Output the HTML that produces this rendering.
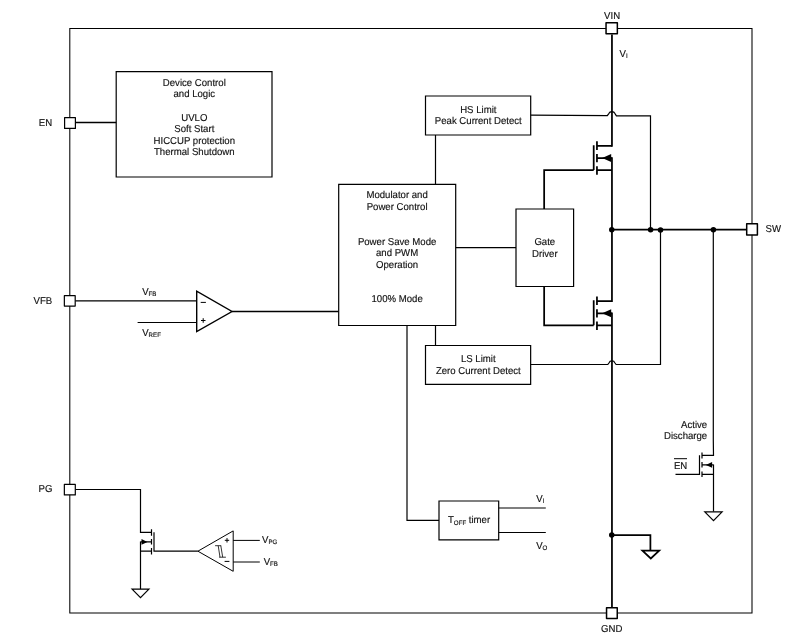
<!DOCTYPE html>
<html><head><meta charset="utf-8"><title>Functional Block Diagram</title>
<style>
html,body{margin:0;padding:0;background:#fff;}
svg{display:block;will-change:transform;}
text{font-family:"Liberation Sans",sans-serif;font-size:10px;fill:#111;stroke:#111;stroke-width:.15px;text-rendering:geometricPrecision;}
.m{text-anchor:middle;}
.e{text-anchor:end;}
.s{font-size:6.4px;stroke-width:.15px;}
.t{stroke:#000;stroke-width:1.2;fill:none;}
.u{stroke:#000;stroke-width:1.4;fill:none;}
.g{stroke:#000;stroke-width:1;fill:none;}
.f{stroke:#000;stroke-width:1.05;fill:none;}
.k{stroke:#000;stroke-width:1.75;fill:none;stroke-linejoin:miter;}
.b{stroke:#000;stroke-width:1.2;fill:#fff;}
.p{stroke:#000;stroke-width:1.2;fill:#fff;stroke-linejoin:round;}
.q{stroke:#000;stroke-width:1.5;fill:#fff;stroke-linejoin:round;}
.d{fill:#000;stroke:none;}
</style></head><body>
<svg width="797" height="641" viewBox="0 0 797 641">
<rect x="0" y="0" width="797" height="641" fill="#fff"/>
<path class="f" d="M69.8 28.5H752V613H69.8Z"/>
<path class="b" d="M116.2 71.6H272V177H116.2Z"/>
<text class="m" transform="translate(194.3 85.7) scale(0.96 1)">Device Control</text>
<text class="m" transform="translate(194.3 97.1) scale(0.96 1)">and Logic</text>
<text class="m" transform="translate(194.3 120.5) scale(0.96 1)">UVLO</text>
<text class="m" transform="translate(194.3 131.7) scale(0.96 1)">Soft Start</text>
<text class="m" transform="translate(194.3 143.5) scale(0.96 1)">HICCUP protection</text>
<text class="m" transform="translate(194.3 154.9) scale(0.96 1)">Thermal Shutdown</text>
<path class="u" d="M75.4 122.45H116.2"/>
<path class="u" d="M75.2 300.9H196.7M232 311.5H338.7"/>
<path class="t" d="M137.6 322.5H196.7"/>
<path class="u" d="M196.7 291.2V331.6L232 311.5Z" style="fill:#fff"/>
<path class="g" d="M200.7 302.4H205.9M201 320.5H205.5M203.2 318.2V322.8"/>
<text transform="translate(142.2 295) scale(0.96 1)">V<tspan class="s" dy="0.8">FB</tspan></text>
<text transform="translate(142.2 336.4) scale(0.96 1)">V<tspan class="s" dy="0.8">REF</tspan></text>
<path class="b" d="M338.7 184.3H455.7V325.5H338.7Z"/>
<text class="m" transform="translate(397.1 197.9) scale(0.96 1)">Modulator and</text>
<text class="m" transform="translate(397.1 209.6) scale(0.96 1)">Power Control</text>
<text class="m" transform="translate(397.1 244.8) scale(0.96 1)">Power Save Mode</text>
<text class="m" transform="translate(397.1 256.2) scale(0.96 1)">and PWM</text>
<text class="m" transform="translate(397.1 267.6) scale(0.96 1)">Operation</text>
<text class="m" transform="translate(397.1 301.9) scale(0.96 1)">100% Mode</text>
<path class="t" d="M435.5 184.3V135M455.7 247.7H516M435.5 325.5V345.5M407 325.5V520.4H439"/>
<path class="b" d="M425.5 96H530.7V135H425.5Z"/>
<text class="m" transform="translate(478.3 112.9) scale(0.96 1)">HS Limit</text>
<text class="m" transform="translate(478.3 124.1) scale(0.96 1)">Peak Current Detect</text>
<path class="t" d="M530.7 115.1L607.3 115.7L608.8 113.6A3.4 3.2 0 0 1 615 113.6L616.4 115.8H650.5V229.7"/>
<path class="b" d="M425.5 345.5H530.65V384.4H425.5Z"/>
<text class="m" transform="translate(478.3 362) scale(0.96 1)">LS Limit</text>
<text class="m" transform="translate(478.3 373.6) scale(0.96 1)">Zero Current Detect</text>
<path class="t" d="M530.65 364.5H607.8L609.1 362.8A3 2.7 0 0 1 614.8 362.8L616.1 364.5H660.5V229.7"/>
<path class="b" d="M516 209H573.6V286.5H516Z"/>
<text class="m" transform="translate(544.8 245.3) scale(0.96 1)">Gate</text>
<text class="m" transform="translate(544.8 257) scale(0.96 1)">Driver</text>
<path class="k" d="M596.95 145.9H611.95 M596.95 158H611.95 M596.95 170H611.95"/>
<path class="k" d="M596.95 141.3V149.9 M596.95 153.9V162.2 M596.95 166.2V174.8 M593.7 145.2V170"/>
<path class="d" d="M602.2 158 L611.2 154 V162 Z"/>
<path class="k" d="M596.95 301H611.95 M596.95 313.25H611.95 M596.95 325.3H611.95"/>
<path class="k" d="M596.95 296.4V305 M596.95 309.15V317.45 M596.95 321.5V330.1 M593.7 300.3V325.3"/>
<path class="d" d="M602.2 313.25 L611.2 309.25 V317.25 Z"/>
<path class="k" d="M611.95 34.4V146.85M611.95 157.2V301.95M611.95 312.4V607.2"/>
<path class="k" d="M593.7 170H544.15V209M593.7 325.3H544.15V286.5"/>
<path class="k" d="M611.95 229.7H746.4"/>
<path class="k" d="M611.95 535H650.4V550.6"/>
<path class="k" d="M642.4 550.6H659.2L650.8 558.5Z" style="fill:#fff"/>
<circle class="d" cx="611.75" cy="229.7" r="2.75"/>
<circle class="d" cx="650.6" cy="229.7" r="2.75"/>
<circle class="d" cx="660.5" cy="230" r="2.75"/>
<circle class="d" cx="713.4" cy="229.7" r="2.75"/>
<circle class="d" cx="611.75" cy="535" r="2.75"/>
<path class="t" d="M713.3 229.7L713.3 440L713.5 455.3H702M702 464.95H713.5M713.5 464.4V511.8M702 474.35H713.5M702 452.5V458.5M702 461.9V467.6M702 471.4V477M699.5 455.2V474.35H675.5"/>
<path class="d" d="M705.8 464.95L712.1 462.1V467.8Z"/>
<path class="b" d="M704.8 511.8H722.1L713.5 520.6Z"/>
<text class="e" transform="translate(707.2 427.9) scale(0.96 1)">Active</text>
<text class="e" transform="translate(707.2 438.9) scale(0.96 1)">Discharge</text>
<text transform="translate(673.9 468.95) scale(0.96 1)">EN</text>
<path class="g" d="M674 458.7H687"/>
<path class="b" d="M439 501H498.7V539.8H439Z"/>
<text transform="translate(448 522.7) scale(0.96 1)">T<tspan class="s" dy="2">OFF</tspan><tspan dy="-2"> timer</tspan></text>
<path class="t" d="M498.7 508H545.8M498.7 532.5H545.8"/>
<text transform="translate(536.2 501.8) scale(0.96 1)">V<tspan class="s" dy="1">I</tspan></text>
<text transform="translate(536.2 548.6) scale(0.96 1)">V<tspan class="s" dy="1">O</tspan></text>
<text transform="translate(619.6 56.6) scale(0.96 1)">V<tspan class="s" dy="1">I</tspan></text>
<path class="t" d="M75.3 489.5H140.5V532.45H151.5M140.5 541.95H151.5M140.5 541.4V589.2M140.5 551.1H151.5M151.5 529.2V535.7M151.5 538.9V544.6M151.5 548V554.4M154 532.2V551.1H197.9"/>
<path class="d" d="M147.4 541.95L141.5 539.1V544.8Z"/>
<path class="b" d="M132.1 589.2H148.9L140.5 597.7Z"/>
<path class="g" d="M197.9 551.2L233.2 530.9V571.3Z" style="fill:#fff"/>
<path class="g" d="M233.2 540.4H259.8M233.2 562H259.8"/>
<path class="g" d="M224.8 540.3H229.2M227 538.1V542.5M224.6 561.4H229.4"/>
<path class="g" d="M215.1 545.7H221.2M218.2 545.7L220 557.2M220.8 545.7L222.7 557.2M219.1 557.2H225.9" style="stroke-width:.8"/>
<text transform="translate(262 542.5) scale(0.96 1)">V<tspan class="s" dy="1">PG</tspan></text>
<text transform="translate(263.7 564.5) scale(0.96 1)">V<tspan class="s" dy="1">FB</tspan></text>
<rect class="p" x="64.6" y="117.6" width="10.8" height="10.8"/>
<rect class="p" x="64.35" y="295.65" width="10.85" height="10.45"/>
<rect class="p" x="64.35" y="484.4" width="10.95" height="10.5"/>
<rect class="q" x="606.05" y="22.8" width="11.3" height="11.05"/>
<rect class="q" x="606.55" y="607.8" width="10.7" height="10.75"/>
<rect class="q" x="746.7" y="223.8" width="10.7" height="11.1"/>
<text class="e" transform="translate(52.2 125.95) scale(0.96 1)">EN</text>
<text class="e" transform="translate(52.2 303.7) scale(0.96 1)">VFB</text>
<text class="e" transform="translate(52.4 491.7) scale(0.96 1)">PG</text>
<text class="m" transform="translate(612.05 18.8) scale(0.96 1)">VIN</text>
<text class="m" transform="translate(611.7 631.6) scale(0.96 1)">GND</text>
<text transform="translate(765.5 232) scale(0.96 1)">SW</text>
</svg>
</body></html>
